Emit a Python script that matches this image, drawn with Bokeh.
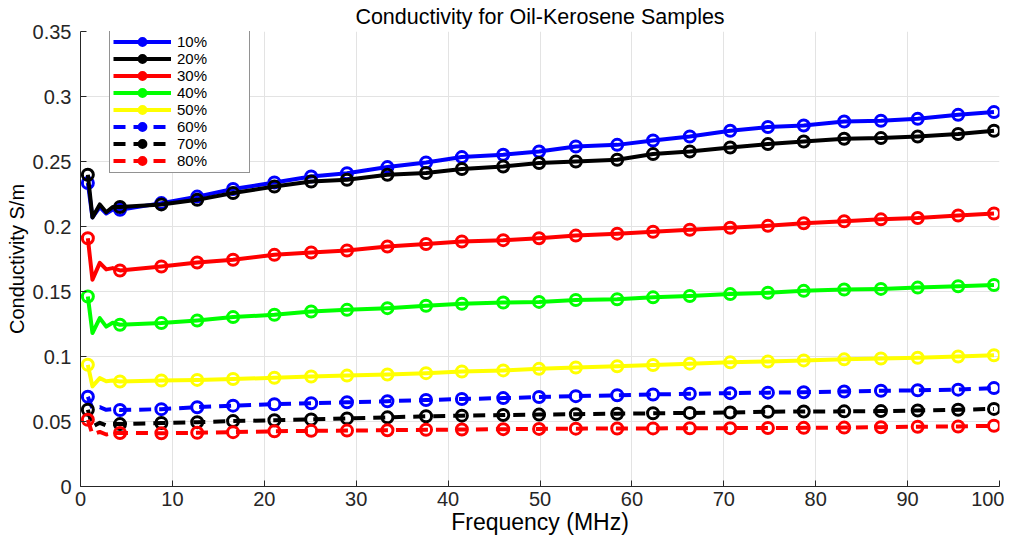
from bokeh.plotting import figure
from bokeh.models import FixedTicker, Legend, LegendItem
from bokeh.embed import file_html
from bokeh.resources import INLINE

# ---------------- data ----------------
freq_markers = [0.8, 4.3, 8.8, 12.7, 16.6, 21.1, 25.1, 29.0, 33.4, 37.6, 41.5, 46.0,
                49.9, 53.9, 58.4, 62.3, 66.3, 70.7, 74.8, 78.7, 83.1, 87.1, 91.1, 95.5, 99.4]
freq_start = [1.3, 2.1, 2.8, 3.5]

labels = ["10%", "20%", "30%", "40%", "50%", "60%", "70%", "80%"]

cond_10 = [0.2335, 0.2128, 0.2180, 0.2230, 0.2288, 0.2338, 0.2385, 0.2410, 0.2457, 0.2492,
           0.2534, 0.2552, 0.2577, 0.2615, 0.2628, 0.2662, 0.2692, 0.2736, 0.2765, 0.2777,
           0.2808, 0.2813, 0.2828, 0.2859, 0.2880]
cond_10_start = [0.2070, 0.2150, 0.2100, 0.2130]

cond_20 = [0.2398, 0.2150, 0.2170, 0.2205, 0.2257, 0.2308, 0.2346, 0.2360, 0.2398, 0.2411,
           0.2442, 0.2462, 0.2488, 0.2500, 0.2513, 0.2557, 0.2577, 0.2608, 0.2634, 0.2654,
           0.2675, 0.2680, 0.2692, 0.2711, 0.2736]
cond_20_start = [0.2070, 0.2170, 0.2110, 0.2150]

cond_30 = [0.1910, 0.1662, 0.1692, 0.1723, 0.1744, 0.1782, 0.1800, 0.1815, 0.1846, 0.1865,
           0.1885, 0.1895, 0.1910, 0.1930, 0.1945, 0.1960, 0.1975, 0.1990, 0.2005, 0.2025,
           0.2040, 0.2055, 0.2065, 0.2085, 0.2100]
cond_30_start = [0.1590, 0.1720, 0.1670, 0.1680]

cond_40 = [0.1462, 0.1244, 0.1257, 0.1277, 0.1303, 0.1321, 0.1346, 0.1359, 0.1372, 0.1390,
           0.1405, 0.1415, 0.1420, 0.1435, 0.1440, 0.1455, 0.1465, 0.1480, 0.1490, 0.1505,
           0.1515, 0.1520, 0.1530, 0.1540, 0.1550]
cond_40_start = [0.1180, 0.1295, 0.1230, 0.1260]

cond_50 = [0.0936, 0.0808, 0.0815, 0.0820, 0.0827, 0.0836, 0.0846, 0.0853, 0.0862, 0.0872,
           0.0885, 0.0893, 0.0905, 0.0915, 0.0925, 0.0935, 0.0945, 0.0955, 0.0962, 0.0970,
           0.0978, 0.0985, 0.0990, 0.1000, 0.1010]
cond_50_start = [0.0770, 0.0834, 0.0810, 0.0815]

cond_60 = [0.0690, 0.0588, 0.0595, 0.0610, 0.0622, 0.0633, 0.0640, 0.0648, 0.0656, 0.0665,
           0.0673, 0.0680, 0.0688, 0.0695, 0.0702, 0.0708, 0.0713, 0.0718, 0.0722, 0.0725,
           0.0731, 0.0736, 0.0740, 0.0745, 0.0757]
cond_60_start = [0.0600, 0.0610, 0.0590, 0.0595]

cond_70 = [0.0590, 0.0480, 0.0488, 0.0495, 0.0503, 0.0510, 0.0516, 0.0524, 0.0532, 0.0540,
           0.0545, 0.0550, 0.0553, 0.0556, 0.0560, 0.0563, 0.0566, 0.0569, 0.0575, 0.0577,
           0.0578, 0.0580, 0.0585, 0.0590, 0.0597]
cond_70_start = [0.0460, 0.0490, 0.0470, 0.0480]

cond_80 = [0.0513, 0.0412, 0.0410, 0.0413, 0.0418, 0.0425, 0.0428, 0.0430, 0.0433, 0.0436,
           0.0438, 0.0441, 0.0443, 0.0445, 0.0446, 0.0447, 0.0448, 0.0449, 0.0450, 0.0451,
           0.0453, 0.0456, 0.0460, 0.0462, 0.0467]
cond_80_start = [0.0400, 0.0420, 0.0400, 0.0410]

x_ticks = [0, 10, 20, 30, 40, 50, 60, 70, 80, 90, 100]
y_ticks = [0, 0.05, 0.1, 0.15, 0.2, 0.25, 0.3, 0.35]
y_tick_labels = ["0", "0.05", "0.1", "0.15", "0.2", "0.25", "0.3", "0.35"]

series = [
    (labels[0], cond_10, cond_10_start, "#0000ff", "solid"),
    (labels[1], cond_20, cond_20_start, "#000000", "solid"),
    (labels[2], cond_30, cond_30_start, "#ff0000", "solid"),
    (labels[3], cond_40, cond_40_start, "#00ff00", "solid"),
    (labels[4], cond_50, cond_50_start, "#ffff00", "solid"),
    (labels[5], cond_60, cond_60_start, "#0000ff", "12 8"),
    (labels[6], cond_70, cond_70_start, "#000000", "12 8"),
    (labels[7], cond_80, cond_80_start, "#ff0000", "12 8"),
]

FONT = "Liberation Sans"
TXT = "#262626"

p = figure(frame_width=919, frame_height=455, x_range=(0, 100), y_range=(0, 0.35),
           output_backend="svg", toolbar_location=None,
           min_border_left=80, min_border_right=5, min_border_top=27, min_border_bottom=54)

p.title.text = "Conductivity for Oil-Kerosene Samples"
p.title.align = "center"
p.title.text_font = FONT
p.title.text_font_size = "21.5px"
p.title.text_font_style = "normal"
p.title.text_color = "#000000"
p.title.standoff = 5

p.outline_line_color = None
p.background_fill_color = "white"

for ax in (p.xaxis[0], p.yaxis[0]):
    ax.axis_line_color = TXT
    ax.axis_line_width = 1
    ax.major_tick_line_color = TXT
    ax.major_tick_in = 6
    ax.major_tick_out = 0
    ax.minor_tick_line_color = None
    ax.major_label_text_font = FONT
    ax.major_label_text_font_size = "20px"
    ax.major_label_text_color = TXT
    ax.axis_label_text_font = FONT
    ax.axis_label_text_font_style = "normal"
    ax.axis_label_text_color = "#000000"

p.xaxis.ticker = FixedTicker(ticks=x_ticks)
p.yaxis.ticker = FixedTicker(ticks=y_ticks)
p.yaxis.major_label_overrides = {t: l for t, l in zip(y_ticks, y_tick_labels)}
p.xaxis.axis_label = "Frequency (MHz)"
p.yaxis.axis_label = "Conductivity S/m"
p.xaxis.axis_label_text_font_size = "23px"
p.yaxis.axis_label_text_font_size = "20px"
p.xaxis.major_label_standoff = 5
p.xaxis.axis_label_standoff = 0
p.yaxis.major_label_standoff = 9
p.yaxis.axis_label_standoff = 2

p.xgrid.ticker = FixedTicker(ticks=x_ticks)
p.ygrid.ticker = FixedTicker(ticks=y_ticks)
p.grid.grid_line_color = "#e3e3e3"
p.grid.grid_line_width = 1

items = []
for name, vals, start_vals, color, dash in series:
    lx = [freq_markers[0]] + freq_start + freq_markers[1:]
    ly = [vals[0]] + start_vals + vals[1:]
    r_line = p.line(lx, ly, line_color=color, line_width=4, line_dash=dash,
                    line_join="round")
    r_mark = p.scatter(freq_markers, vals, marker="circle", size=11,
                       line_color=color, line_width=3, fill_color=None)
    items.append(LegendItem(label=name, renderers=[r_line, r_mark]))

legend = Legend(items=items, location=(29, 313))
legend.label_text_font = FONT
legend.label_text_font_size = "15px"
legend.label_text_color = "#000000"
legend.glyph_width = 58
legend.glyph_height = 17
legend.label_height = 17
legend.label_width = 69
legend.spacing = 0
legend.padding = 3
legend.margin = 0
legend.label_standoff = 6
legend.border_line_color = TXT
legend.border_line_width = 1
legend.background_fill_color = "white"
legend.background_fill_alpha = 1
p.add_layout(legend)

open("out.html", "w").write(file_html(p, INLINE))
